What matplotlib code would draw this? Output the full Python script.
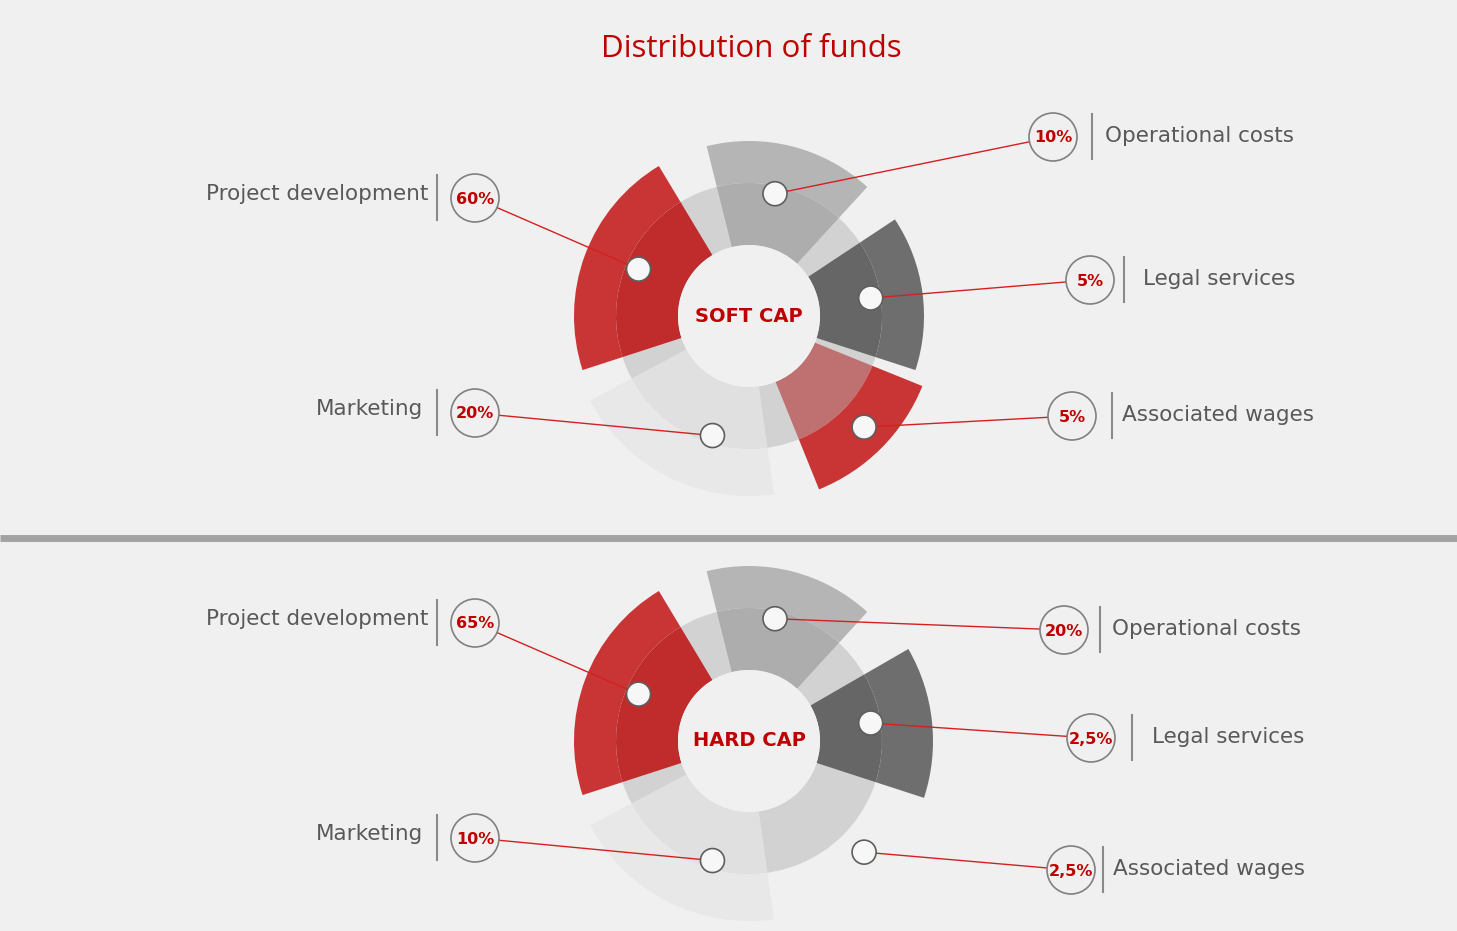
import matplotlib.pyplot as plt
from matplotlib.patches import Wedge, Circle
import numpy as np

# data
categories = ["Project development", "Operational costs", "Legal services",
              "Associated wages", "Marketing"]
soft_cap = [60, 10, 5, 5, 20]
hard_cap = [65, 20, 2.5, 2.5, 10]
chart_names = ["SOFT CAP", "HARD CAP"]
title = "Distribution of funds"

BG = '#f0f0f0'
RED = '#c00000'
LABEL_COL = '#595959'
LINE_RED = '#d42020'

R_IN = 71
R_RING = 133
CX = 749


def fmt(v):
    s = ('%g' % v).replace('.', ',')
    return s + '%'


def vwedge(ax, cx, cy, r1, r2, a1, a2, color):
    # angles given as seen on screen (y axis is inverted)
    ax.add_patch(Wedge((cx, cy), r2, -a2, -a1, width=r2 - r1,
                       facecolor=color, edgecolor='none', zorder=2))


def polar(cx, cy, ang, r):
    a = np.radians(ang)
    return cx + r * np.cos(a), cy - r * np.sin(a)


# per chart layout: (start, end, outer radius, outer colour, inner colour) per category
wedges_top = [(121, 198, 175, '#c93535', '#c02c2c'),
              (47.5, 104, 175, '#b5b5b5', '#adadad'),
              (-18, 33.5, 175, '#6e6e6e', '#666666'),
              (-68, -22, 187, '#c93535', '#bf7171'),
              (208, 278, 180, '#e8e8e8', '#e0e0e0')]
wedges_bot = [(121, 198, 175, '#c93535', '#c02c2c'),
              (47.5, 104, 175, '#b5b5b5', '#adadad'),
              (-18, 30, 184, '#6e6e6e', '#666666'),
              None,
              (208, 278, 180, '#e8e8e8', '#e0e0e0')]
dots = [(157, 120), (78, 125), (8.4, 123), (-44, 160), (253, 125)]

# bubble centres, separator x, label x per category
bubbles_top = [(475, 198), (1053, 137), (1090, 280), (1072, 416), (475, 413)]
bubbles_bot = [(475, 623), (1064, 630), (1091, 738), (1071, 870), (475, 838)]
bars_top = [437, 1092, 1124, 1112, 437]
bars_bot = [437, 1100, 1132, 1103, 437]
labx_top = [428, 1105, 1143, 1122, 423]
labx_bot = [428, 1112, 1152, 1113, 423]

fig = plt.figure(figsize=(14.57, 9.31), dpi=100, facecolor=BG)
ax = fig.add_axes([0, 0, 1, 1])
ax.set_xlim(0, 1457)
ax.set_ylim(931, 0)
ax.set_aspect('equal')
ax.axis('off')
ax.set_facecolor(BG)

ax.text(751, 49, title, ha='center', va='center', fontsize=22.5,
        color=RED, family='Open Sans')

# horizontal separator
ax.plot([0, 1457], [537.5, 537.5], color='#a3a3a3', lw=5, solid_capstyle='butt', zorder=1)


def draw_chart(cy, values, name, wedges, bubbles, bars, labx):
    # base ring
    ax.add_patch(Wedge((CX, cy), R_RING, 0, 360, width=R_RING - R_IN,
                       facecolor='#d2d2d2', edgecolor='none', zorder=1))
    for w in wedges:
        if w is None:
            continue
        a1, a2, ro, c_out, c_in = w
        vwedge(ax, CX, cy, R_IN, R_RING, a1, a2, c_in)
        vwedge(ax, CX, cy, R_RING, ro, a1, a2, c_out)
    ax.add_patch(Circle((CX, cy), R_IN, facecolor=BG, edgecolor='none', zorder=3))
    ax.text(CX, cy, name, ha='center', va='center', fontsize=14, fontweight='bold',
            color=RED, family='DejaVu Sans', zorder=4)

    for i, v in enumerate(values):
        bx, by = bubbles[i]
        dx, dy = polar(CX, cy, dots[i][0], dots[i][1])
        # leader line
        ax.plot([bx, dx], [by, dy], color=LINE_RED, lw=1, zorder=5)
        ax.add_patch(Circle((dx, dy), 12, facecolor='#f7f7f7', edgecolor='#5e5e5e',
                            lw=1.2, zorder=6))
        ax.add_patch(Circle((bx, by), 24, facecolor=BG, edgecolor='#808080',
                            lw=1.2, zorder=6))
        ax.text(bx, by + 1, fmt(v), ha='center', va='center', fontsize=11.5,
                fontweight='bold', color=RED, family='DejaVu Sans', zorder=7)
        ax.plot([bars[i], bars[i]], [by - 23, by + 22], color='#8a8a8a', lw=1.5, zorder=5)
        if labx[i] < CX:
            ax.text(labx[i], by - 4, categories[i], ha='right', va='center',
                    fontsize=15.5, color=LABEL_COL)
        else:
            ax.text(labx[i], by - 1, categories[i], ha='left', va='center',
                    fontsize=15.5, color=LABEL_COL)


draw_chart(316, soft_cap, chart_names[0], wedges_top, bubbles_top, bars_top, labx_top)
draw_chart(741, hard_cap, chart_names[1], wedges_bot, bubbles_bot, bars_bot, labx_bot)

fig.savefig('out.png', dpi=100, facecolor=BG)
